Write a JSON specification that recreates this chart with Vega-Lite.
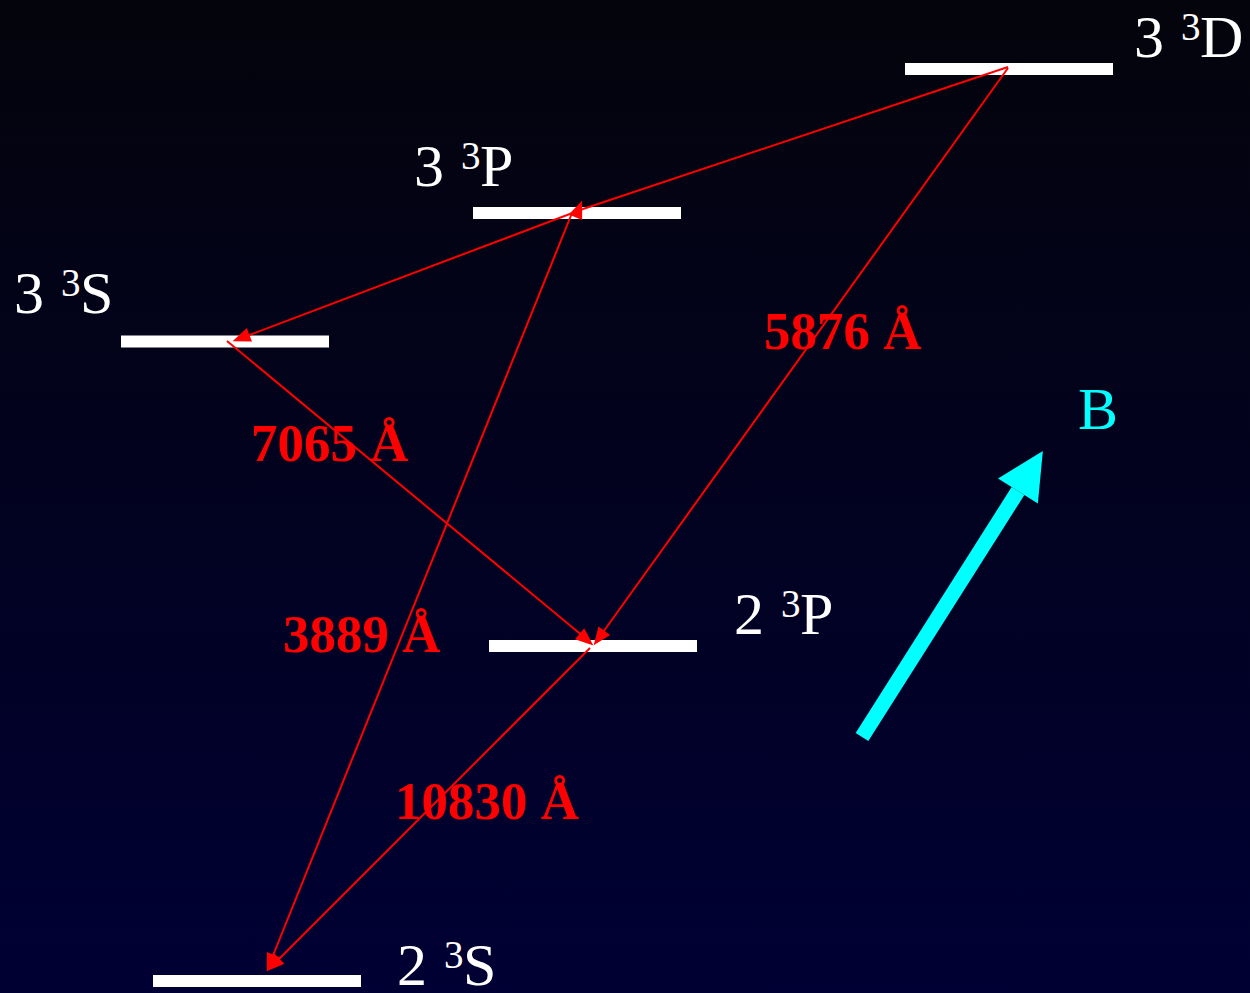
{
  "$schema": "https://vega.github.io/schema/vega-lite/v6.json",
  "autosize": {"type": "none"},
  "width": 1250,
  "height": 993,
  "padding": 0,
  "background": "#00001f",
  "config": {"view": {"stroke": null}},
  "datasets": {
    "levels": [
      {"level": "3 3D", "x": 905, "x2": 1113, "y": 69},
      {"level": "3 3P", "x": 473, "x2": 681, "y": 213},
      {"level": "3 3S", "x": 121, "x2": 329, "y": 341.5},
      {"level": "2 3P", "x": 489, "x2": 697, "y": 646},
      {"level": "2 3S", "x": 153, "x2": 361, "y": 981}
    ],
    "labels": [
      {"n": "3", "sup": "3", "term": "D", "x": 1134, "y": 57},
      {"n": "3", "sup": "3", "term": "P", "x": 414, "y": 186},
      {"n": "3", "sup": "3", "term": "S", "x": 14, "y": 313},
      {"n": "2", "sup": "3", "term": "P", "x": 734, "y": 634},
      {"n": "2", "sup": "3", "term": "S", "x": 397, "y": 985}
    ],
    "transitions": [
      {"name": "3D-3P", "x": 1008, "y": 67, "x2": 583, "y2": 209},
      {"name": "3P-3S", "x": 583, "y": 209, "x2": 236, "y2": 340},
      {"name": "7065", "x": 227, "y": 341, "x2": 590, "y2": 642},
      {"name": "5876", "x": 1008, "y": 68, "x2": 596, "y2": 642},
      {"name": "3889", "x": 572, "y": 213, "x2": 268, "y2": 968},
      {"name": "10830", "x": 590, "y": 648, "x2": 270, "y2": 968}
    ],
    "heads": [
      {"name": "3P", "x": 578.8, "y": 208.9, "dir": 22},
      {"name": "3S", "x": 241, "y": 338, "dir": 249},
      {"name": "7065", "x": 586.5, "y": 639.6, "dir": 130},
      {"name": "5876", "x": 599, "y": 638, "dir": 216},
      {"name": "3889", "x": 270.2, "y": 963.1, "dir": 202},
      {"name": "10830", "x": 273, "y": 965, "dir": 225}
    ],
    "wavelengths": [
      {"text": "5876 Å", "x": 764, "y": 349},
      {"text": "7065 Å", "x": 251, "y": 461},
      {"text": "3889 Å", "x": 283, "y": 652},
      {"text": "10830 Å", "x": 395, "y": 819}
    ],
    "field": [
      {"label": "B", "x": 862, "y": 737, "x2": 1018, "y2": 491, "hx": 1030.4, "hy": 471, "dir": 32, "tx": 1078, "ty": 429}
    ]
  },
  "layer": [
    {
      "data": {"values": [{"bg": 1}]},
      "mark": {
        "type": "rect",
        "color": {
          "gradient": "linear", "x1": 0, "y1": 0, "x2": 0, "y2": 1,
          "stops": [{"offset": 0, "color": "#04040c"}, {"offset": 1, "color": "#000034"}]
        }
      },
      "encoding": {}
    },
    {
      "data": {"name": "levels"},
      "mark": {"type": "rule", "color": "#ffffff", "strokeWidth": 12, "strokeCap": "butt"},
      "encoding": {
        "x": {"field": "x", "type": "quantitative", "scale": {"domain": [0, 1250], "nice": false, "zero": false}, "axis": null},
        "x2": {"field": "x2"},
        "y": {"field": "y", "type": "quantitative", "scale": {"domain": [0, 993], "nice": false, "zero": false, "reverse": true}, "axis": null}
      }
    },
    {
      "data": {"name": "transitions"},
      "mark": {"type": "rule", "color": "#ff0000", "strokeWidth": 2},
      "encoding": {
        "x": {"field": "x", "type": "quantitative"},
        "x2": {"field": "x2"},
        "y": {"field": "y", "type": "quantitative"},
        "y2": {"field": "y2"}
      }
    },
    {
      "data": {"name": "heads"},
      "mark": {"type": "point", "shape": "M0,-1L0.8,1L-0.8,1Z", "filled": true, "opacity": 1, "color": "#ff0000", "size": 324, "strokeWidth": 0},
      "encoding": {
        "x": {"field": "x", "type": "quantitative"},
        "y": {"field": "y", "type": "quantitative"},
        "angle": {"field": "dir", "type": "quantitative", "scale": null}
      }
    },
    {
      "data": {"name": "field"},
      "mark": {"type": "rule", "color": "#00ffff", "strokeWidth": 15, "strokeCap": "butt"},
      "encoding": {
        "x": {"field": "x", "type": "quantitative"},
        "x2": {"field": "x2"},
        "y": {"field": "y", "type": "quantitative"},
        "y2": {"field": "y2"}
      }
    },
    {
      "data": {"name": "field"},
      "mark": {"type": "point", "shape": "M0,-1L1,1L-1,1Z", "filled": true, "opacity": 1, "color": "#00ffff", "size": 2209, "strokeWidth": 0},
      "encoding": {
        "x": {"field": "hx", "type": "quantitative"},
        "y": {"field": "hy", "type": "quantitative"},
        "angle": {"field": "dir", "type": "quantitative", "scale": null}
      }
    },
    {
      "data": {"name": "field"},
      "mark": {"type": "text", "font": "Liberation Serif", "fontSize": 60, "color": "#00ffff", "align": "left", "baseline": "alphabetic"},
      "encoding": {
        "x": {"field": "tx", "type": "quantitative"},
        "y": {"field": "ty", "type": "quantitative"},
        "text": {"field": "label"}
      }
    },
    {
      "data": {"name": "labels"},
      "mark": {"type": "text", "font": "Liberation Serif", "fontSize": 60, "color": "#ffffff", "align": "left", "baseline": "alphabetic"},
      "encoding": {
        "x": {"field": "x", "type": "quantitative"},
        "y": {"field": "y", "type": "quantitative"},
        "text": {"field": "n"}
      }
    },
    {
      "data": {"name": "labels"},
      "mark": {"type": "text", "font": "Liberation Serif", "fontSize": 39, "color": "#ffffff", "align": "left", "baseline": "alphabetic", "dx": 47, "dy": -17},
      "encoding": {
        "x": {"field": "x", "type": "quantitative"},
        "y": {"field": "y", "type": "quantitative"},
        "text": {"field": "sup"}
      }
    },
    {
      "data": {"name": "labels"},
      "mark": {"type": "text", "font": "Liberation Serif", "fontSize": 60, "color": "#ffffff", "align": "left", "baseline": "alphabetic", "dx": 66},
      "encoding": {
        "x": {"field": "x", "type": "quantitative"},
        "y": {"field": "y", "type": "quantitative"},
        "text": {"field": "term"}
      }
    },
    {
      "data": {"name": "wavelengths"},
      "mark": {"type": "text", "font": "Liberation Serif", "fontSize": 53, "fontWeight": "bold", "color": "#ff0000", "align": "left", "baseline": "alphabetic"},
      "encoding": {
        "x": {"field": "x", "type": "quantitative"},
        "y": {"field": "y", "type": "quantitative"},
        "text": {"field": "text"}
      }
    }
  ]
}
